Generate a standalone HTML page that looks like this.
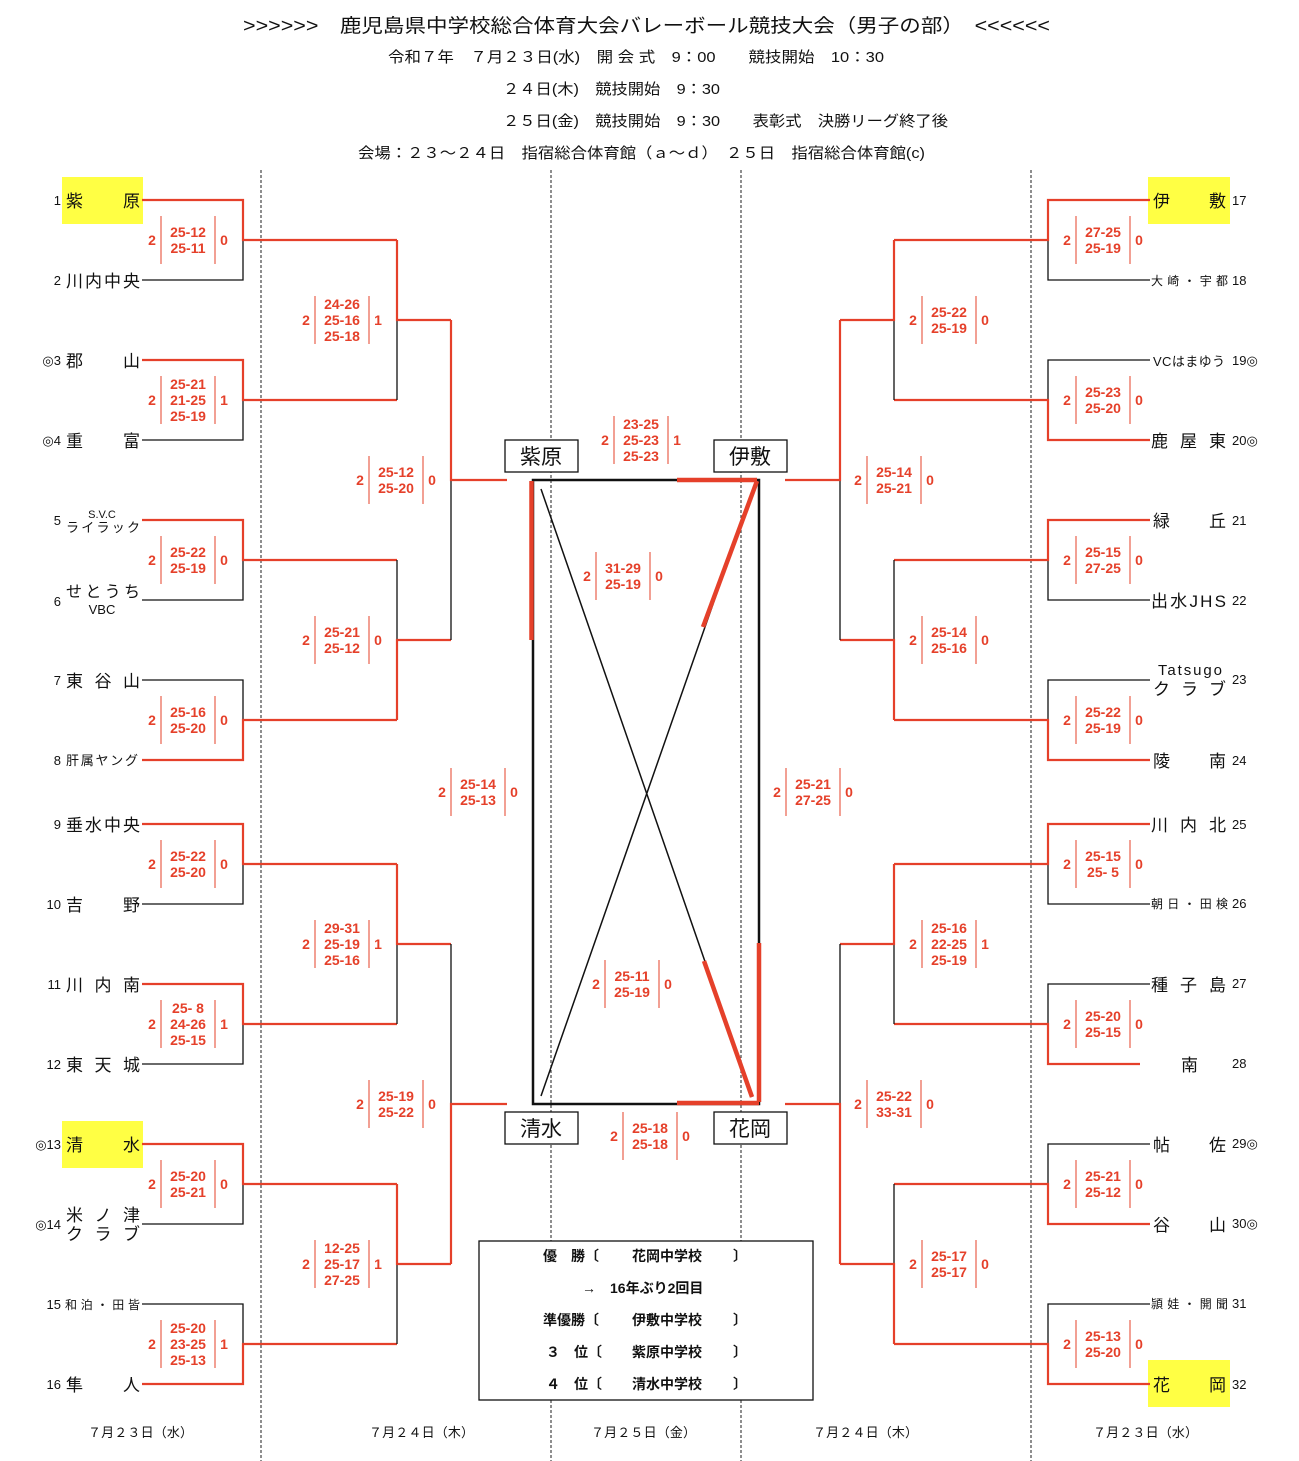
<!DOCTYPE html>
<html><head><meta charset="utf-8">
<style>
html,body{margin:0;padding:0;background:#fff;}
svg{display:block;}
.t{font-family:"Liberation Sans","Noto Sans CJK JP",sans-serif;fill:#111;}
.n{font-family:"Liberation Sans","Noto Sans CJK JP",sans-serif;font-size:17px;fill:#111;}
.num{font-family:"Liberation Sans",sans-serif;font-size:13px;fill:#111;}
.s{font-family:"Liberation Sans",sans-serif;font-size:14px;font-weight:bold;fill:#e5402a;}
.k{stroke:#111;stroke-width:1.3;fill:none;}
.r{stroke:#e5402a;stroke-width:2.2;fill:none;}
.rv{stroke:#e5402a;stroke-width:1;}
.b{font-family:"Liberation Sans","Noto Sans CJK JP",sans-serif;font-size:14px;font-weight:bold;fill:#111;}
</style></head><body>
<svg width="1299" height="1461" viewBox="0 0 1299 1461" xmlns="http://www.w3.org/2000/svg">
<text class="t" x="243" y="32" font-size="19" textLength="807" lengthAdjust="spacingAndGlyphs">&gt;&gt;&gt;&gt;&gt;&gt;　鹿児島県中学校総合体育大会バレーボール競技大会（男子の部）　&lt;&lt;&lt;&lt;&lt;&lt;</text>
<text class="t" x="388" y="62" font-size="15" textLength="496" lengthAdjust="spacingAndGlyphs">令和７年　７月２３日(水)　開 会 式　9：00　　競技開始　10：30</text>
<text class="t" x="503" y="94" font-size="15" textLength="217" lengthAdjust="spacingAndGlyphs">２４日(木)　競技開始　9：30</text>
<text class="t" x="503" y="126" font-size="15" textLength="445" lengthAdjust="spacingAndGlyphs">２５日(金)　競技開始　9：30　　表彰式　決勝リーグ終了後</text>
<text class="t" x="358" y="158" font-size="15" textLength="567" lengthAdjust="spacingAndGlyphs">会場：２３～２４日　指宿総合体育館（ａ～ｄ）　２５日　指宿総合体育館(c)</text>

<g stroke="#444" stroke-width="1.2" stroke-dasharray="3,2">
<line x1="261" y1="170" x2="261" y2="1461"/><line x1="551" y1="170" x2="551" y2="1461"/>
<line x1="741" y1="170" x2="741" y2="1461"/><line x1="1031" y1="170" x2="1031" y2="1461"/>
</g>

<g fill="#ffff44">
<rect x="62" y="177" width="81" height="47"/><rect x="62" y="1121" width="81" height="47"/>
<rect x="1148" y="177" width="82" height="47"/><rect x="1148" y="1360" width="82" height="47"/>
</g>

<g>
<path class="k" d="M142 280H243V240"/><path class="r" d="M142 200H243V240H397"/>
<path class="k" d="M142 440H243V400"/><path class="r" d="M142 360H243V400H397"/>
<path class="k" d="M142 600H243V560"/><path class="r" d="M142 520H243V560H397"/>
<path class="k" d="M142 680H243V720"/><path class="r" d="M142 760H243V720H397"/>
<path class="k" d="M142 904H243V864"/><path class="r" d="M142 824H243V864H397"/>
<path class="k" d="M142 1064H243V1024"/><path class="r" d="M142 984H243V1024H397"/>
<path class="k" d="M142 1224H243V1184"/><path class="r" d="M142 1144H243V1184H397"/>
<path class="k" d="M142 1304H243V1344"/><path class="r" d="M142 1384H243V1344H397"/>
<path class="k" d="M397 320V400"/><path class="r" d="M397 240V320H451"/>
<path class="k" d="M397 560V640"/><path class="r" d="M397 720V640H451"/>
<path class="k" d="M397 944V1024"/><path class="r" d="M397 864V944H451"/>
<path class="k" d="M397 1264V1344"/><path class="r" d="M397 1184V1264H451"/>
<path class="k" d="M451 480V640"/><path class="r" d="M451 320V480H507"/>
<path class="k" d="M451 944V1104"/><path class="r" d="M451 1264V1104H507"/>
</g>

<g>
<path class="k" d="M1150 280H1048V240"/><path class="r" d="M1150 200H1048V240H894"/>
<path class="k" d="M1150 360H1048V400"/><path class="r" d="M1150 440H1048V400H894"/>
<path class="k" d="M1150 600H1048V560"/><path class="r" d="M1150 520H1048V560H894"/>
<path class="k" d="M1150 680H1048V720"/><path class="r" d="M1150 760H1048V720H894"/>
<path class="k" d="M1150 904H1048V864"/><path class="r" d="M1150 824H1048V864H894"/>
<path class="k" d="M1150 984H1048V1024"/><path class="r" d="M1140 1064H1048V1024H894"/>
<path class="k" d="M1150 1144H1048V1184"/><path class="r" d="M1150 1224H1048V1184H894"/>
<path class="k" d="M1150 1304H1048V1344"/><path class="r" d="M1150 1384H1048V1344H894"/>
<path class="k" d="M894 320V400"/><path class="r" d="M894 240V320H840"/>
<path class="k" d="M894 560V640"/><path class="r" d="M894 720V640H840"/>
<path class="k" d="M894 944V1024"/><path class="r" d="M894 864V944H840"/>
<path class="k" d="M894 1184V1264"/><path class="r" d="M894 1344V1264H840"/>
<path class="k" d="M840 480V640"/><path class="r" d="M840 320V480H785"/>
<path class="k" d="M840 944V1104"/><path class="r" d="M840 1264V1104H785"/>
</g>

<rect x="533" y="480" width="226" height="624" fill="none" stroke="#111" stroke-width="2.5"/>
<line x1="541" y1="489" x2="752" y2="1097" stroke="#111" stroke-width="1.5"/>
<line x1="755" y1="484" x2="541" y2="1096" stroke="#111" stroke-width="1.5"/>
<g stroke="#e5402a" stroke-width="4.5" fill="none">
<line x1="531.5" y1="481" x2="531.5" y2="640"/>
<line x1="677" y1="480" x2="757" y2="480"/>
<line x1="757" y1="481" x2="703" y2="627"/>
<line x1="759" y1="943" x2="759" y2="1102"/>
<line x1="677" y1="1103" x2="759" y2="1103"/>
<line x1="704" y1="961" x2="752" y2="1097"/>
</g>
<g fill="#fff" stroke="#111" stroke-width="1.3">
<rect x="505" y="440" width="73" height="32"/><rect x="714" y="440" width="73" height="32"/>
<rect x="505" y="1112" width="73" height="32"/><rect x="714" y="1112" width="73" height="32"/>
</g>
<g class="t" font-size="21" text-anchor="middle">
<text x="541" y="464">紫原</text><text x="750" y="464">伊敷</text>
<text x="541" y="1136">清水</text><text x="750" y="1136">花岡</text>
</g>

<g class="s">
<text x="152" y="245" text-anchor="middle">2</text><text x="224" y="245" text-anchor="middle">0</text><text x="188" y="237" text-anchor="middle">25-12</text><text x="188" y="253" text-anchor="middle">25-11</text>
<text x="152" y="405" text-anchor="middle">2</text><text x="224" y="405" text-anchor="middle">1</text><text x="188" y="389" text-anchor="middle">25-21</text><text x="188" y="405" text-anchor="middle">21-25</text><text x="188" y="421" text-anchor="middle">25-19</text>
<text x="152" y="565" text-anchor="middle">2</text><text x="224" y="565" text-anchor="middle">0</text><text x="188" y="557" text-anchor="middle">25-22</text><text x="188" y="573" text-anchor="middle">25-19</text>
<text x="152" y="725" text-anchor="middle">2</text><text x="224" y="725" text-anchor="middle">0</text><text x="188" y="717" text-anchor="middle">25-16</text><text x="188" y="733" text-anchor="middle">25-20</text>
<text x="152" y="869" text-anchor="middle">2</text><text x="224" y="869" text-anchor="middle">0</text><text x="188" y="861" text-anchor="middle">25-22</text><text x="188" y="877" text-anchor="middle">25-20</text>
<text x="152" y="1029" text-anchor="middle">2</text><text x="224" y="1029" text-anchor="middle">1</text><text x="188" y="1013" text-anchor="middle">25- 8</text><text x="188" y="1029" text-anchor="middle">24-26</text><text x="188" y="1045" text-anchor="middle">25-15</text>
<text x="152" y="1189" text-anchor="middle">2</text><text x="224" y="1189" text-anchor="middle">0</text><text x="188" y="1181" text-anchor="middle">25-20</text><text x="188" y="1197" text-anchor="middle">25-21</text>
<text x="152" y="1349" text-anchor="middle">2</text><text x="224" y="1349" text-anchor="middle">1</text><text x="188" y="1333" text-anchor="middle">25-20</text><text x="188" y="1349" text-anchor="middle">23-25</text><text x="188" y="1365" text-anchor="middle">25-13</text>
<text x="306" y="325" text-anchor="middle">2</text><text x="378" y="325" text-anchor="middle">1</text><text x="342" y="309" text-anchor="middle">24-26</text><text x="342" y="325" text-anchor="middle">25-16</text><text x="342" y="341" text-anchor="middle">25-18</text>
<text x="306" y="645" text-anchor="middle">2</text><text x="378" y="645" text-anchor="middle">0</text><text x="342" y="637" text-anchor="middle">25-21</text><text x="342" y="653" text-anchor="middle">25-12</text>
<text x="306" y="949" text-anchor="middle">2</text><text x="378" y="949" text-anchor="middle">1</text><text x="342" y="933" text-anchor="middle">29-31</text><text x="342" y="949" text-anchor="middle">25-19</text><text x="342" y="965" text-anchor="middle">25-16</text>
<text x="306" y="1269" text-anchor="middle">2</text><text x="378" y="1269" text-anchor="middle">1</text><text x="342" y="1253" text-anchor="middle">12-25</text><text x="342" y="1269" text-anchor="middle">25-17</text><text x="342" y="1285" text-anchor="middle">27-25</text>
<text x="360" y="485" text-anchor="middle">2</text><text x="432" y="485" text-anchor="middle">0</text><text x="396" y="477" text-anchor="middle">25-12</text><text x="396" y="493" text-anchor="middle">25-20</text>
<text x="360" y="1109" text-anchor="middle">2</text><text x="432" y="1109" text-anchor="middle">0</text><text x="396" y="1101" text-anchor="middle">25-19</text><text x="396" y="1117" text-anchor="middle">25-22</text>
<text x="442" y="797" text-anchor="middle">2</text><text x="514" y="797" text-anchor="middle">0</text><text x="478" y="789" text-anchor="middle">25-14</text><text x="478" y="805" text-anchor="middle">25-13</text>
<text x="1067" y="245" text-anchor="middle">2</text><text x="1139" y="245" text-anchor="middle">0</text><text x="1103" y="237" text-anchor="middle">27-25</text><text x="1103" y="253" text-anchor="middle">25-19</text>
<text x="1067" y="405" text-anchor="middle">2</text><text x="1139" y="405" text-anchor="middle">0</text><text x="1103" y="397" text-anchor="middle">25-23</text><text x="1103" y="413" text-anchor="middle">25-20</text>
<text x="1067" y="565" text-anchor="middle">2</text><text x="1139" y="565" text-anchor="middle">0</text><text x="1103" y="557" text-anchor="middle">25-15</text><text x="1103" y="573" text-anchor="middle">27-25</text>
<text x="1067" y="725" text-anchor="middle">2</text><text x="1139" y="725" text-anchor="middle">0</text><text x="1103" y="717" text-anchor="middle">25-22</text><text x="1103" y="733" text-anchor="middle">25-19</text>
<text x="1067" y="869" text-anchor="middle">2</text><text x="1139" y="869" text-anchor="middle">0</text><text x="1103" y="861" text-anchor="middle">25-15</text><text x="1103" y="877" text-anchor="middle">25- 5</text>
<text x="1067" y="1029" text-anchor="middle">2</text><text x="1139" y="1029" text-anchor="middle">0</text><text x="1103" y="1021" text-anchor="middle">25-20</text><text x="1103" y="1037" text-anchor="middle">25-15</text>
<text x="1067" y="1189" text-anchor="middle">2</text><text x="1139" y="1189" text-anchor="middle">0</text><text x="1103" y="1181" text-anchor="middle">25-21</text><text x="1103" y="1197" text-anchor="middle">25-12</text>
<text x="1067" y="1349" text-anchor="middle">2</text><text x="1139" y="1349" text-anchor="middle">0</text><text x="1103" y="1341" text-anchor="middle">25-13</text><text x="1103" y="1357" text-anchor="middle">25-20</text>
<text x="913" y="325" text-anchor="middle">2</text><text x="985" y="325" text-anchor="middle">0</text><text x="949" y="317" text-anchor="middle">25-22</text><text x="949" y="333" text-anchor="middle">25-19</text>
<text x="913" y="645" text-anchor="middle">2</text><text x="985" y="645" text-anchor="middle">0</text><text x="949" y="637" text-anchor="middle">25-14</text><text x="949" y="653" text-anchor="middle">25-16</text>
<text x="913" y="949" text-anchor="middle">2</text><text x="985" y="949" text-anchor="middle">1</text><text x="949" y="933" text-anchor="middle">25-16</text><text x="949" y="949" text-anchor="middle">22-25</text><text x="949" y="965" text-anchor="middle">25-19</text>
<text x="913" y="1269" text-anchor="middle">2</text><text x="985" y="1269" text-anchor="middle">0</text><text x="949" y="1261" text-anchor="middle">25-17</text><text x="949" y="1277" text-anchor="middle">25-17</text>
<text x="858" y="485" text-anchor="middle">2</text><text x="930" y="485" text-anchor="middle">0</text><text x="894" y="477" text-anchor="middle">25-14</text><text x="894" y="493" text-anchor="middle">25-21</text>
<text x="858" y="1109" text-anchor="middle">2</text><text x="930" y="1109" text-anchor="middle">0</text><text x="894" y="1101" text-anchor="middle">25-22</text><text x="894" y="1117" text-anchor="middle">33-31</text>
<text x="777" y="797" text-anchor="middle">2</text><text x="849" y="797" text-anchor="middle">0</text><text x="813" y="789" text-anchor="middle">25-21</text><text x="813" y="805" text-anchor="middle">27-25</text>
<text x="605" y="445" text-anchor="middle">2</text><text x="677" y="445" text-anchor="middle">1</text><text x="641" y="429" text-anchor="middle">23-25</text><text x="641" y="445" text-anchor="middle">25-23</text><text x="641" y="461" text-anchor="middle">25-23</text>
<text x="587" y="581" text-anchor="middle">2</text><text x="659" y="581" text-anchor="middle">0</text><text x="623" y="573" text-anchor="middle">31-29</text><text x="623" y="589" text-anchor="middle">25-19</text>
<text x="596" y="989" text-anchor="middle">2</text><text x="668" y="989" text-anchor="middle">0</text><text x="632" y="981" text-anchor="middle">25-11</text><text x="632" y="997" text-anchor="middle">25-19</text>
<text x="614" y="1141" text-anchor="middle">2</text><text x="686" y="1141" text-anchor="middle">0</text><text x="650" y="1133" text-anchor="middle">25-18</text><text x="650" y="1149" text-anchor="middle">25-18</text>
</g>
<g class="rv">
<path d="M161 216v48M215 216v48M161 376v48M215 376v48M161 536v48M215 536v48M161 696v48M215 696v48M161 840v48M215 840v48M161 1000v48M215 1000v48M161 1160v48M215 1160v48M161 1320v48M215 1320v48"/>
<path d="M315 296v48M369 296v48M315 616v48M369 616v48M315 920v48M369 920v48M315 1240v48M369 1240v48"/>
<path d="M369 456v48M423 456v48M369 1080v48M423 1080v48M451 768v48M505 768v48"/>
<path d="M1076 216v48M1130 216v48M1076 376v48M1130 376v48M1076 536v48M1130 536v48M1076 696v48M1130 696v48M1076 840v48M1130 840v48M1076 1000v48M1130 1000v48M1076 1160v48M1130 1160v48M1076 1320v48M1130 1320v48"/>
<path d="M922 296v48M976 296v48M922 616v48M976 616v48M922 920v48M976 920v48M922 1240v48M976 1240v48"/>
<path d="M867 456v48M921 456v48M867 1080v48M921 1080v48M786 768v48M840 768v48"/>
<path d="M614 416v48M668 416v48M596 552v48M650 552v48M605 960v48M659 960v48M623 1112v48M677 1112v48"/>
</g>

<g class="num" text-anchor="end">
<text x="61" y="205">1</text><text x="61" y="285">2</text><text x="61" y="365">◎3</text><text x="61" y="445">◎4</text>
<text x="61" y="525">5</text><text x="61" y="606">6</text><text x="61" y="685">7</text><text x="61" y="765">8</text>
<text x="61" y="829">9</text><text x="61" y="909">10</text><text x="61" y="989">11</text><text x="61" y="1069">12</text>
<text x="61" y="1149">◎13</text><text x="61" y="1229">◎14</text><text x="61" y="1309">15</text><text x="61" y="1389">16</text>
</g>
<g class="n">
<text x="66" y="207" textLength="74" lengthAdjust="spacing">紫原</text>
<text x="66" y="287" textLength="74" lengthAdjust="spacing">川内中央</text>
<text x="66" y="367" textLength="74" lengthAdjust="spacing">郡山</text>
<text x="66" y="447" textLength="74" lengthAdjust="spacing">重富</text>
<text x="66" y="532" font-size="13" textLength="74" lengthAdjust="spacing">ライラック</text>
<text x="66" y="597" font-size="16" textLength="74" lengthAdjust="spacing">せとうち</text>
<text x="66" y="687" textLength="74" lengthAdjust="spacing">東谷山</text>
<text x="66" y="765" font-size="13" textLength="72" lengthAdjust="spacing">肝属ヤング</text>
<text x="66" y="831" textLength="74" lengthAdjust="spacing">垂水中央</text>
<text x="66" y="911" textLength="74" lengthAdjust="spacing">吉野</text>
<text x="66" y="991" textLength="74" lengthAdjust="spacing">川内南</text>
<text x="66" y="1071" textLength="74" lengthAdjust="spacing">東天城</text>
<text x="66" y="1151" textLength="74" lengthAdjust="spacing">清水</text>
<text x="66" y="1221" textLength="74" lengthAdjust="spacing">米ノ津</text>
<text x="66" y="1240" textLength="74" lengthAdjust="spacing">クラブ</text>
<text x="65" y="1309" font-size="12" textLength="75" lengthAdjust="spacing">和泊・田皆</text>
<text x="66" y="1391" textLength="74" lengthAdjust="spacing">隼人</text>
</g>
<text class="t" x="102" y="518" font-size="11" text-anchor="middle">S.V.C</text>
<text class="t" x="102" y="614" font-size="13" text-anchor="middle">VBC</text>

<g class="n">
<text x="1153" y="207" textLength="73" lengthAdjust="spacing">伊敷</text>
<text x="1151" y="285" font-size="12" textLength="77" lengthAdjust="spacing">大崎・宇都 </text>
<text x="1153" y="366" font-size="13" textLength="72" lengthAdjust="spacing">VCはまゆう</text>
<text x="1151" y="447" textLength="75" lengthAdjust="spacing">鹿屋東</text>
<text x="1153" y="527" textLength="73" lengthAdjust="spacing">緑丘</text>
<text x="1151" y="607" textLength="75" lengthAdjust="spacing">出水JHS</text>
<text x="1158" y="675" font-size="15" textLength="64" lengthAdjust="spacing">Tatsugo</text>
<text x="1153" y="695" textLength="73" lengthAdjust="spacing">クラブ</text>
<text x="1153" y="767" textLength="73" lengthAdjust="spacing">陵南</text>
<text x="1151" y="831" textLength="75" lengthAdjust="spacing">川内北</text>
<text x="1151" y="908" font-size="12" textLength="77" lengthAdjust="spacing">朝日・田検 </text>
<text x="1151" y="991" textLength="75" lengthAdjust="spacing">種子島</text>
<text x="1181" y="1071">南</text>
<text x="1153" y="1151" textLength="73" lengthAdjust="spacing">帖佐</text>
<text x="1153" y="1231" textLength="73" lengthAdjust="spacing">谷山</text>
<text x="1151" y="1308" font-size="12" textLength="77" lengthAdjust="spacing">頴娃・開聞 </text>
<text x="1153" y="1391" textLength="73" lengthAdjust="spacing">花岡</text>
</g>
<g class="num">
<text x="1232" y="205">17</text><text x="1232" y="285">18</text><text x="1232" y="365">19◎</text><text x="1232" y="445">20◎</text>
<text x="1232" y="525">21</text><text x="1232" y="605">22</text><text x="1232" y="684">23</text><text x="1232" y="765">24</text>
<text x="1232" y="829">25</text><text x="1232" y="908">26</text><text x="1232" y="988">27</text><text x="1232" y="1068">28</text>
<text x="1232" y="1148">29◎</text><text x="1232" y="1228">30◎</text><text x="1232" y="1308">31</text><text x="1232" y="1389">32</text>
</g>

<rect x="479" y="1241" width="334" height="159" fill="#fff" stroke="#111" stroke-width="1.3"/>
<g class="b">
<text x="543" y="1261">優　勝〔</text><text x="632" y="1261">花岡中学校</text><text x="733" y="1261">〕</text>
<text x="582" y="1293">→　16年ぶり2回目</text>
<text x="543" y="1325">準優勝〔</text><text x="632" y="1325">伊敷中学校</text><text x="733" y="1325">〕</text>
<text x="546" y="1357">３　位〔</text><text x="632" y="1357">紫原中学校</text><text x="733" y="1357">〕</text>
<text x="546" y="1389">４　位〔</text><text x="632" y="1389">清水中学校</text><text x="733" y="1389">〕</text>
</g>

<g class="t" font-size="13">
<text x="88" y="1437" textLength="105" lengthAdjust="spacing">７月２３日（水）</text>
<text x="369" y="1437" textLength="105" lengthAdjust="spacing">７月２４日（木）</text>
<text x="591" y="1437" textLength="105" lengthAdjust="spacing">７月２５日（金）</text>
<text x="813" y="1437" textLength="105" lengthAdjust="spacing">７月２４日（木）</text>
<text x="1093" y="1437" textLength="105" lengthAdjust="spacing">７月２３日（水）</text>
</g>
</svg>
</body></html>
